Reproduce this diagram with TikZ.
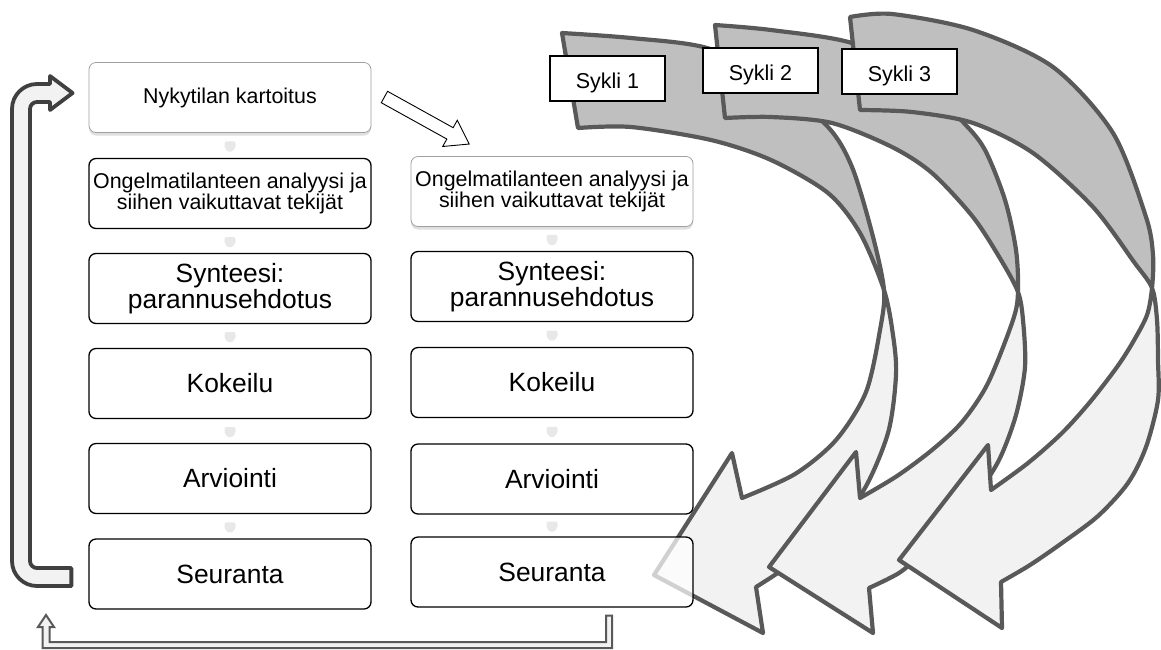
\documentclass[tikz,border=0pt]{standalone}
\usepackage{fontspec}
\setmainfont{Liberation Sans}
\usetikzlibrary{calc,shadows}
\definecolor{aline}{RGB}{89,89,89}
\definecolor{adark}{RGB}{191,191,191}
\definecolor{alight}{RGB}{242,242,242}
\definecolor{lline}{RGB}{64,64,64}
\definecolor{chevc}{RGB}{232,232,232}
\definecolor{softb}{RGB}{160,160,160}

\def\cycA{plot[smooth] coordinates {(562,33) (631,38) (707,48) (772,80) (828,127) (852,167) (872,233) (884,290) (880,330) (866,392) (836,440) (795,474) (742,498)}
 -- (732,453) -- (654,575) -- (763,633) -- (756,587)
 -- plot[smooth] coordinates {(756,587) (785,568) (820,540) (862,493) (888,433) (896,375) (893,335) (884,290) (860,233) (828,193) (771,160) (711,140) (631,127) (578,128)} -- cycle}

\def\cycB{plot[smooth] coordinates {(715,25) (771,30) (852,43) (915,75) (963,122) (985,150) (1005,200) (1016,250) (1018,292) (1013,320) (988,383) (962,422) (932,450) (897,476) (860,498)}
 -- (856,452) -- (769,567) -- (873,633) -- (869,588)
 -- plot[smooth] coordinates {(869,588) (899,573) (920,555) (950,525) (980,490) (1000,458) (1016,415) (1025,367) (1023,320) (1018,292) (1001,260) (973,217) (932,173) (892,147) (832,123) (771,117) (725,118)} -- cycle}

\def\cycC{plot[smooth] coordinates {(850,17) (892,14) (973,30) (1053,67) (1113,133) (1146,217) (1153,255) (1152,288) (1147,315) (1133,342) (1117,367) (1090,402) (1062,433) (1028,463) (991,490)}
 -- (988,445) -- (899,560) -- (1002,628) -- (1001,582)
 -- plot[smooth] coordinates {(1001,582) (1030,565) (1062,543) (1098,516) (1128,483) (1146,447) (1158,400) (1158,360) (1157,320) (1152,288) (1134,262) (1093,207) (1033,153) (973,123) (912,112) (860,110)} -- cycle}

\begin{document}
\begin{tikzpicture}[x=1pt,y=-1pt,
  box/.style={draw=black, line width=1.3pt, rounded corners=7pt, fill=white,
    minimum width=282pt, minimum height=70pt, inner sep=0pt, align=center,
    font=\fontsize{26.4pt}{26pt}\selectfont},
  smalltext/.style={font=\fontsize{21.4pt}{20.7pt}\selectfont},
  firstbox/.style={box, smalltext, draw=softb, line width=0.8pt,
    drop shadow={shadow xshift=0pt, shadow yshift=-3pt, opacity=0.25}},
  sykli/.style={draw=black, line width=1.2pt, fill=white, minimum width=115pt,
    minimum height=45pt, inner sep=0pt, font=\fontsize{21.5pt}{21pt}\selectfont,
    text height=19pt, text depth=0pt},
  cyc/.style={draw=aline, line width=4.2pt, line join=round},
  chev/.pic={\fill[chevc, rounded corners=2pt] (-5.5,-6) -- (5.5,-6) -- (5.5,1) -- (0,5.5) -- (-5.5,1) -- cycle;}
]
\useasboundingbox (0,0) rectangle (1161,649);

% curved cycle arrows
\fill[alight] \cycA;
\begin{scope}\clip (0,0) rectangle (1161,290); \fill[adark] \cycA; \end{scope}
\path[cyc] \cycA;

\fill[alight] \cycB;
\begin{scope}\clip (0,0) rectangle (1161,292); \fill[adark] \cycB; \end{scope}
\path[cyc] \cycB;

\fill[alight] \cycC;
\begin{scope}\clip (0,0) rectangle (1161,288); \fill[adark] \cycC; \end{scope}
\path[cyc] \cycC;

\node[sykli] (s1) at (607.5,78.5) {Sykli 1\hspace{12pt}};
\node[sykli] (s2) at (760.5,70.5) {Sykli 2\hspace{12pt}};
\node[sykli] (s3) at (899.5,71.5) {Sykli 3\hspace{12pt}};

% left column
\node[firstbox] (nykL) at (230,97.5) {Nykytilan kartoitus};
\node[box, smalltext] (ongL) at (230,193.5) {Ongelmatilanteen analyysi ja\\siihen vaikuttavat tekijät};
\node[box] (synL) at (230,288.5) {Synteesi:\\parannusehdotus};
\node[box] (kokL) at (230,383.5) {Kokeilu};
\node[box] (arvL) at (230,478.5) {Arviointi};
\node[box] (seuL) at (230,574) {Seuranta};

% right column
\node[firstbox] (ongR) at (552,191.5) {Ongelmatilanteen analyysi ja\\siihen vaikuttavat tekijät};
\node[box] (synR) at (552,286.5) {Synteesi:\\parannusehdotus};
\node[box] (kokR) at (552,382.5) {Kokeilu};
\node[box] (arvR) at (552,479) {Arviointi};
\node[box, fill opacity=0.72, text opacity=1] (seuR) at (552,572) {Seuranta};

% small chevron connectors
\pic at ($(nykL.south)!0.5!(ongL.north)+(0,2)$) {chev};
\pic at ($(ongL.south)!0.5!(synL.north)+(0,2)$) {chev};
\pic at ($(synL.south)!0.5!(kokL.north)+(0,2)$) {chev};
\pic at ($(kokL.south)!0.5!(arvL.north)+(0,2)$) {chev};
\pic at ($(arvL.south)!0.5!(seuL.north)+(0,2)$) {chev};
\pic at ($(ongR.south)!0.5!(synR.north)+(0,2)$) {chev};
\pic at ($(synR.south)!0.5!(kokR.north)+(0,2)$) {chev};
\pic at ($(kokR.south)!0.5!(arvR.north)+(0,2)$) {chev};
\pic at ($(arvR.south)!0.5!(seuR.north)+(0,2)$) {chev};

% hollow arrow from first box to second column
\begin{scope}[shift={($(nykL.east)+(13,-0.5)$)}, rotate=-29]
\draw[line width=0.9pt, fill=white, line join=miter]
  (0,-6.5) -- (75,-6.5) -- (75,-15) -- (97,0) -- (75,15) -- (75,6.5) -- (0,6.5) -- cycle;
\end{scope}

% big return arrow on the left
\coordinate (tailL) at ($(seuL.west)+(-17,3)$);
\coordinate (tipL) at ($(nykL.west)+(-16,-4.5)$);
\draw[draw=lline, fill=alight, line width=3.8pt, line join=round]
  ($(tailL)+(0,-9)$) -- (37,568) .. controls (33.1,568) and (30,564.9) .. (30,561)
  -- (30,109) .. controls (30,105.1) and (33.1,102) .. (37,102)
  -- (50,102) -- (50,110) -- (tipL) -- (50,76) -- (50,84)
  -- (37,84) .. controls (23.2,84) and (12,95.2) .. (12,109)
  -- (12,561) .. controls (12,574.8) and (23.2,586) .. (37,586)
  -- ($(tailL)+(0,9)$) -- cycle;

% bottom connector from second column back
\coordinate (bstart) at ($(seuR.south)+(57,8)$);
\coordinate (bend) at (46,615);
\draw[draw=aline, fill=alight, line width=2pt, line join=miter]
  ($(bstart)+(-3,0)$) -- (606,642) -- (49.5,642) -- (49.5,627) -- (54,627)
  -- (bend) -- (38,627) -- (42.5,627) -- (42.5,648) -- (612,648)
  -- ($(bstart)+(3,0)$) -- cycle;
\end{tikzpicture}
\end{document}
